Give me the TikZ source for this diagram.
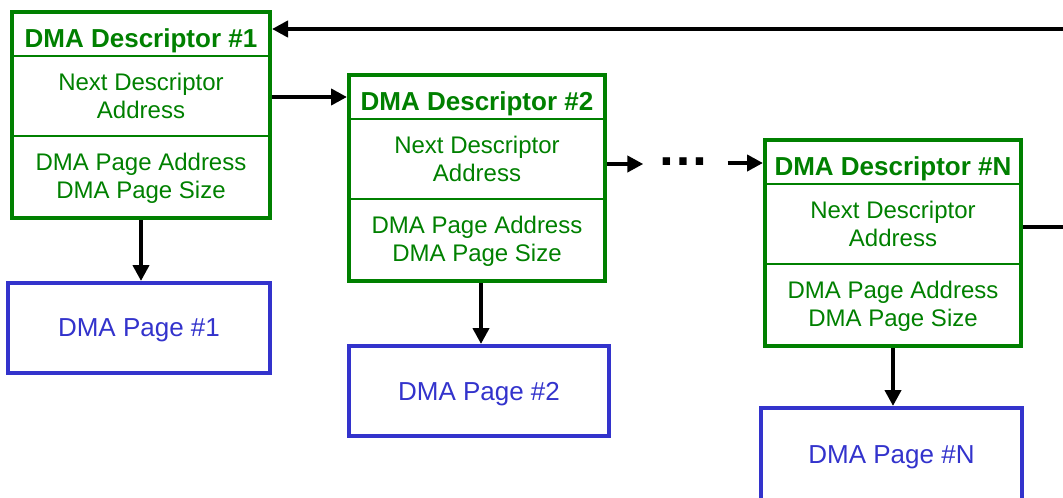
\documentclass[tikz,border=0pt]{standalone}
\usepackage{fontspec}
\setmainfont{Liberation Sans}
\usetikzlibrary{arrows.meta}
\definecolor{dgreen}{RGB}{0,128,0}
\definecolor{pblue}{RGB}{51,51,204}
\begin{document}
\begin{tikzpicture}[x=1pt,y=-1pt,
  desc/.style={draw=dgreen, line width=4pt, minimum width=256pt, minimum height=206pt, inner sep=0pt},
  divider/.style={draw=dgreen, line width=1.5pt},
  ttl/.style={text=dgreen, font=\fontsize{26}{30}\selectfont\bfseries, inner sep=0pt, anchor=base},
  fld/.style={text=dgreen, font=\fontsize{24}{28}\selectfont, align=center, inner sep=0pt},
  page/.style={draw=pblue, line width=4pt, minimum width=260pt, minimum height=90pt, text=pblue, font=\fontsize{26}{30}\selectfont, inner sep=0pt, text depth=0pt},
  arr/.style={draw=black, line width=4pt, -{Triangle[length=16pt,width=16pt]}},
  link/.style={draw=black, line width=4pt}
]
\useasboundingbox (0,0) rectangle (1063,498);

% Descriptor 1
\node[desc, minimum width=258pt] (d1) at (141,115) {};
\node[ttl] (d1t) at (141,47) {DMA Descriptor \#1};
\draw[divider] ([yshift=-46pt]d1.north west) -- ([yshift=-46pt]d1.north east);
\draw[divider] ([yshift=-126pt]d1.north west) -- ([yshift=-126pt]d1.north east);
\node[fld] (d1n) at (141,96) {Next Descriptor\\Address};
\node[fld] (d1p) at (141,178) {DMA Page Address\\DMA Page Size};

% Descriptor 2
\node[desc] (d2) at (477,178) {};
\node[ttl] (d2t) at (477,110) {DMA Descriptor \#2};
\draw[divider] ([yshift=-46pt]d2.north west) -- ([yshift=-46pt]d2.north east);
\draw[divider] ([yshift=-126pt]d2.north west) -- ([yshift=-126pt]d2.north east);
\node[fld] (d2n) at (477,159) {Next Descriptor\\Address};
\node[fld] (d2p) at (477,241) {DMA Page Address\\DMA Page Size};

% Descriptor N
\node[desc] (dN) at (893,243) {};
\node[ttl] (dNt) at (893,175) {DMA Descriptor \#N};
\draw[divider] ([yshift=-46pt]dN.north west) -- ([yshift=-46pt]dN.north east);
\draw[divider] ([yshift=-126pt]dN.north west) -- ([yshift=-126pt]dN.north east);
\node[fld] (dNn) at (893,224) {Next Descriptor\\Address};
\node[fld] (dNp) at (893,306) {DMA Page Address\\DMA Page Size};

% Pages
\node[page, minimum width=262pt] (p1) at (139,328) {DMA Page \#1};
\node[page] (p2) at (479,391) {DMA Page \#2};
\node[page, minimum width=261pt, minimum height=93pt] (pN) at (891.5,454.5) {DMA Page \#N};

% Dots
\node[font=\fontsize{52}{60}\selectfont\bfseries, inner sep=0pt, anchor=base] (dots) at (683.5,165) {…};

% Connectors
\draw[arr] (d1.south) -- (d1.south |- p1.north);
\draw[arr] ([xshift=4pt]d2.south) -- ([xshift=4pt]d2.south |- p2.north);
\draw[arr] (dN.south) -- (dN.south |- pN.north);
\draw[arr] (d1.east |- 0,97) -- (d2.west |- 0,97);
\draw[arr] (d2.east |- 0,164) -- ([xshift=-14pt]dots.west |- 0,164);
\draw[arr] ([xshift=18pt]dots.east |- 0,163) -- (dN.west |- 0,163);
\coordinate (ret1) at (1063,227);
\coordinate (ret2) at (1063,29);
\draw[link] (dN.east |- 0,227) -- (ret1);
\draw[arr] (ret2) -- (d1.east |- 0,29);
\end{tikzpicture}
\end{document}
